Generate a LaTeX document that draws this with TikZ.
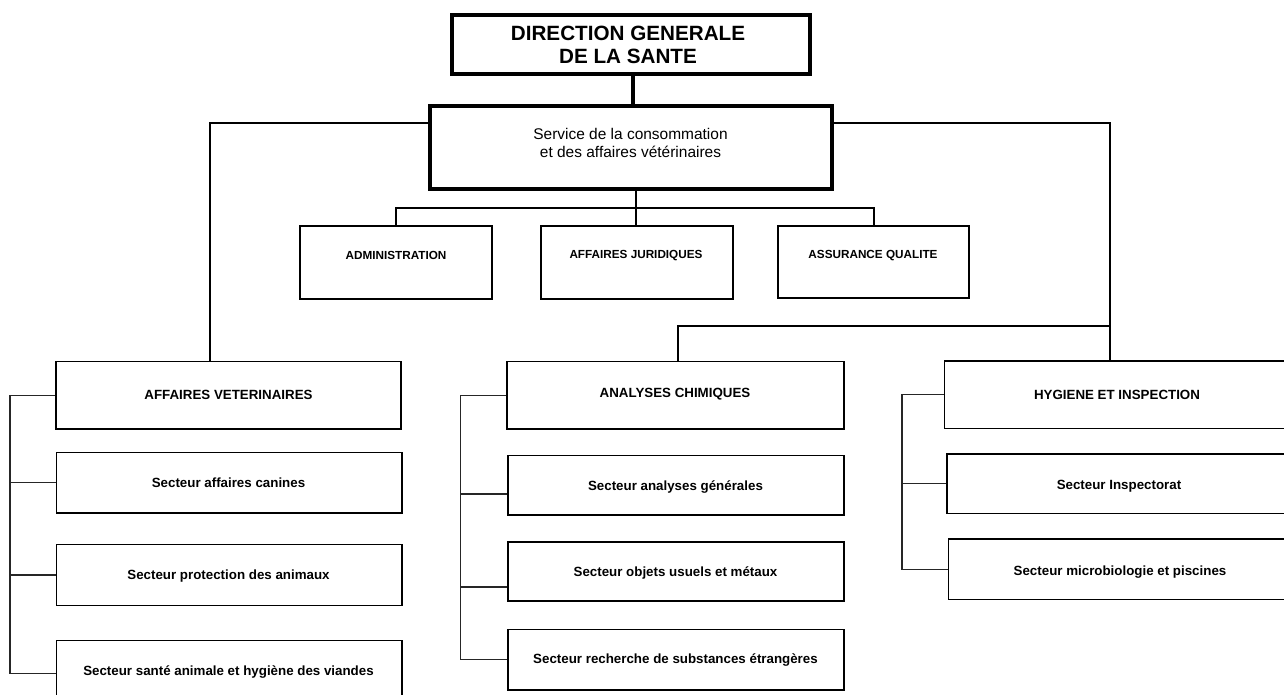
\documentclass[tikz,border=0pt]{standalone}
\usepackage{fontspec}
\setmainfont{Liberation Sans}
\usetikzlibrary{fit}
\begin{document}
\begin{tikzpicture}[x=0.75pt,y=-0.75pt,
  bigbox/.style={draw, line width=2.3pt, inner sep=0pt},
  midbox/.style={draw, line width=1.45pt, inner sep=0pt},
  lowbox/.style={draw, line width=1.4pt, inner sep=0pt},
  thickconn/.style={line width=2.5pt},
  conn/.style={line width=1.9pt},
  brk/.style={line width=1.05pt, draw=black!85},
  dgsfont/.style={font=\bfseries\fontsize{15.5}{17.25}\selectfont, align=center},
  svcfont/.style={font=\fontsize{11.6}{13.5}\selectfont, align=center},
  midfont/.style={font=\bfseries\fontsize{8.8}{10}\selectfont, anchor=base},
  lowfont/.style={font=\bfseries\fontsize{10}{12}\selectfont, anchor=base}]
\useasboundingbox (0,0) rectangle (1284,695);
\clip (0,0) rectangle (1284,695);
% boxes
\node[bigbox, fit={(452,15) (810,74)}] (dgs) {};
\node[bigbox, fit={(430,106) (832,189)}] (svc) {};
\node[midbox, fit={(300,226) (492,299)}] (adm) {};
\node[midbox, fit={(541,226) (733,299)}] (jur) {};
\node[midbox, fit={(778,226) (969,298)}] (qual) {};
\node[lowbox, fit={(56,361.5) (401,429)}] (av) {};
\node[lowbox, fit={(56.5,452.5) (402,513)}] (can) {};
\node[lowbox, fit={(56.5,544.5) (402,605.5)}] (prot) {};
\node[lowbox, fit={(56.5,640.5) (402,706)}] (sante) {};
\node[lowbox, fit={(507,361.5) (844,429)}] (ac) {};
\node[lowbox, fit={(508,455.5) (844,515)}] (gen) {};
\node[lowbox, fit={(508,542) (844,601)}] (obj) {};
\node[lowbox, fit={(508,629.5) (844,690)}] (rech) {};
\node[lowbox, fit={(944.5,361) (1292,428.5)}] (hi) {};
\node[lowbox, fit={(947,454) (1292,513.5)}] (insp) {};
\node[lowbox, fit={(948.5,539) (1292,599.5)}] (micro) {};
% texts
\node[dgsfont] (dgs-t) at (628,45.3) {DIRECTION GENERALE\\DE LA SANTE};
\node[svcfont] (svc-t) at (630.5,143) {Service de la consommation\\et des affaires vétérinaires};
\node[midfont] (adm-t) at (396,260) {ADMINISTRATION};
\node[midfont] (jur-t) at (636,258) {AFFAIRES JURIDIQUES};
\node[midfont] (qual-t) at (873,258) {ASSURANCE QUALITE};
\node[lowfont] (av-t) at (228.5,399) {AFFAIRES VETERINAIRES};
\node[lowfont] (can-t) at (228.5,487) {Secteur affaires canines};
\node[lowfont] (prot-t) at (228.5,579) {Secteur protection des animaux};
\node[lowfont] (sante-t) at (228.5,675.5) {Secteur santé animale et hygiène des viandes};
\node[lowfont] (ac-t) at (675,397.5) {ANALYSES CHIMIQUES};
\node[lowfont] (gen-t) at (675.5,490) {Secteur analyses générales};
\node[lowfont] (obj-t) at (675.5,576.5) {Secteur objets usuels et métaux};
\node[lowfont] (rech-t) at (675.5,663.5) {Secteur recherche de substances étrangères};
\node[lowfont] (hi-t) at (1117,399) {HYGIENE ET INSPECTION};
\node[lowfont] (insp-t) at (1119,489) {Secteur Inspectorat};
\node[lowfont] (micro-t) at (1120,575) {Secteur microbiologie et piscines};
% helper coordinates
\coordinate (xA) at (633,0);
\coordinate (yS) at (0,123);
\coordinate (xL) at (210,0);
\coordinate (xR) at (1110,0);
\coordinate (yH) at (0,326);
\coordinate (xC) at (678,0);
\coordinate (xM) at (636,0);
\coordinate (yM) at (0,208);
\coordinate (xAdm) at (396,0);
\coordinate (xQual) at (874,0);
\coordinate (xB1) at (10,0);
\coordinate (xB2) at (460.5,0);
\coordinate (xB3) at (902,0);
\coordinate (yT1) at (0,494);
\coordinate (yT2) at (0,587);
% connectors
\draw[thickconn] (dgs.south -| xA) -- (svc.north -| xA);
\draw[conn] (svc.west |- yS) -| (av.north -| xL);
\draw[conn] (svc.east |- yS) -| (hi.north -| xR);
\draw[conn] (xR |- yH) -| (ac.north -| xC);
\draw[conn] (svc.south -| xM) -- (jur.north -| xM);
\draw[conn] (adm.north -| xAdm) -- (xAdm |- yM) -- (xQual |- yM) -- (qual.north -| xQual);
% brackets
\draw[brk] (av.west) -- (xB1 |- av.west) -- (xB1 |- sante.west) -- (sante.west);
\draw[brk] (xB1 |- can.west) -- (can.west);
\draw[brk] (xB1 |- prot.west) -- (prot.west);
\draw[brk] (ac.west) -- (xB2 |- ac.west) -- (xB2 |- rech.west) -- (rech.west);
\draw[brk] (xB2 |- yT1) -- (gen.west |- yT1);
\draw[brk] (xB2 |- yT2) -- (obj.west |- yT2);
\draw[brk] (hi.west) -- (xB3 |- hi.west) -- (xB3 |- micro.west) -- (micro.west);
\draw[brk] (xB3 |- insp.west) -- (insp.west);
\end{tikzpicture}
\end{document}
